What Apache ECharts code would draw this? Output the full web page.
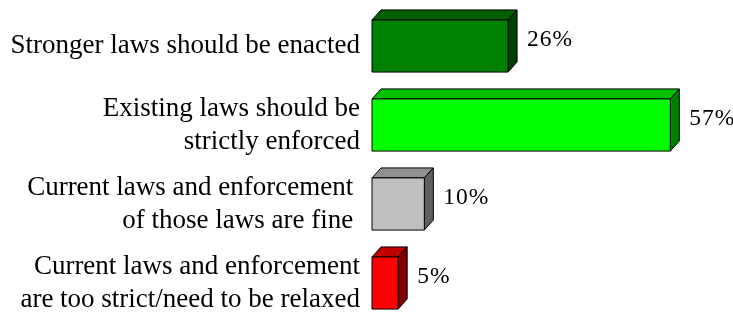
<!DOCTYPE html>
<html>
<head>
<meta charset="utf-8">
<script src="https://cdn.jsdelivr.net/npm/echarts@6/dist/echarts.min.js"></script>
<style>
  html, body { margin: 0; padding: 0; background: #fff; overflow: hidden; }
  #chart { width: 733px; height: 324px; }
</style>
</head>
<body>
<div id="chart"></div>
<script>
const categories = [
    "Stronger laws should be enacted",
    "Existing laws should be\nstrictly enforced",
    "Current laws and enforcement \nof those laws are fine ",
    "Current laws and enforcement\nare too strict/need to be relaxed"
];
const values = [26, 57, 10, 5];
const frontColors = ["#008000", "#00ff00", "#c0c0c0", "#ff0000"];
const topColors = ["#006000", "#00c000", "#909090", "#c00000"];
const sideColors = ["#004000", "#008000", "#606060", "#800000"];

const depthX = 9;
const depthY = 10;
const valueFont = "23.5px 'Liberation Serif'";

// measure for the spaced-out value labels
const ctx = document.createElement("canvas").getContext("2d");
ctx.font = valueFont;

function spacedText(str, x, y) {
    const parts = [];
    let cx = x;
    str.split("").forEach(function(ch) {
        parts.push({
            type: "text",
            x: cx,
            y: y,
            style: { text: ch, fill: "#000", font: valueFont, verticalAlign: "middle", align: "left" }
        });
        cx += ctx.measureText(ch).width + 1;
    });
    return parts;
}

function drawBox(params, api) {
    const i = api.value(0);
    const v = api.value(1);
    const end = api.coord([v, i]);
    const start = api.coord([0, i]);
    const h = api.size([0, 1])[1] * 0.66;
    const x0 = start[0], x1 = end[0];
    const y0 = end[1] - h / 2, y1 = y0 + h;
    const line = { stroke: "#000", lineWidth: 1 };
    return {
        type: "group",
        children: [
            {
                type: "polygon",
                shape: { points: [[x0, y0], [x0 + depthX, y0 - depthY], [x1 + depthX, y0 - depthY], [x1, y0]] },
                style: Object.assign({ fill: topColors[i] }, line)
            },
            {
                type: "polygon",
                shape: { points: [[x1, y0], [x1 + depthX, y0 - depthY], [x1 + depthX, y1 - depthY], [x1, y1]] },
                style: Object.assign({ fill: sideColors[i] }, line)
            },
            {
                type: "rect",
                shape: { x: x0, y: y0, width: x1 - x0, height: h },
                style: Object.assign({ fill: frontColors[i] }, line)
            }
        ].concat(spacedText(v + "%", x1 + depthX + 10, end[1] - 6))
    };
}

const chart = echarts.init(document.getElementById("chart"));
chart.setOption({
    animation: false,
    grid: { left: 372, right: 47, top: 6.5, bottom: 1.5 },
    xAxis: { type: "value", min: 0, max: 60, show: false },
    yAxis: {
        type: "category",
        inverse: true,
        data: categories,
        axisLine: { show: false },
        axisTick: { show: false },
        axisLabel: {
            margin: 12,
            color: "#000",
            fontFamily: "Liberation Serif",
            fontSize: 27,
            lineHeight: 33,
            align: "right"
        }
    },
    series: [{
        type: "custom",
        renderItem: drawBox,
        encode: { x: 1, y: 0 },
        data: values.map(function(v, i) { return [i, v]; })
    }]
});
</script>
</body>
</html>
